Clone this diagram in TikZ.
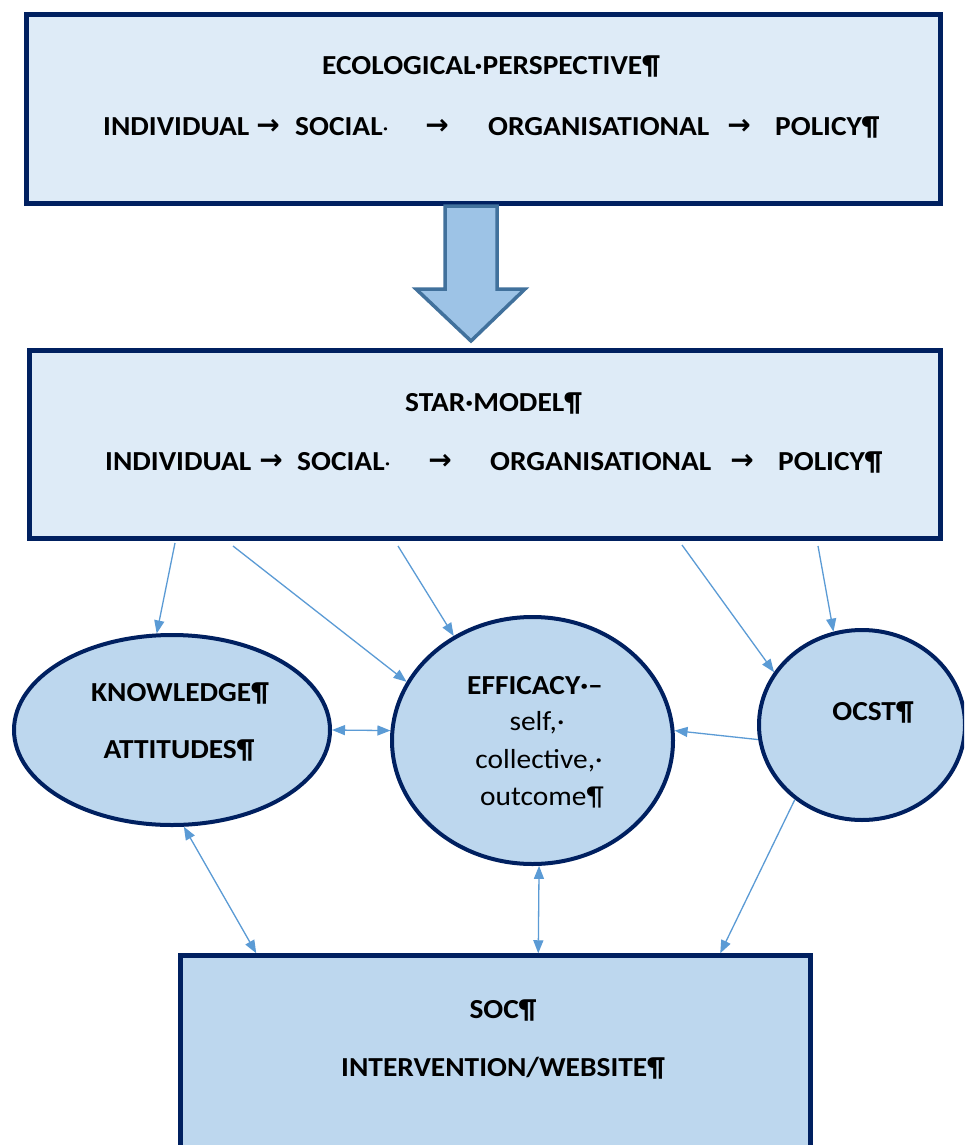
\documentclass[tikz,border=0pt]{standalone}
\usepackage{fontspec}
\setmainfont{Carlito}[FakeStretch=1.07]
\newfontfamily\arrowfont{DejaVu Sans}
\usetikzlibrary{arrows.meta,calc,shapes.geometric}
\definecolor{navy}{RGB}{0,32,96}
\definecolor{paleblue}{RGB}{222,235,247}
\definecolor{midblue}{RGB}{189,215,238}
\definecolor{linkblue}{RGB}{91,155,213}
\definecolor{arrowfill}{RGB}{157,195,230}
\definecolor{arrowedge}{RGB}{65,113,156}
\tikzset{
  bigbox/.style={draw=navy, line width=5pt, fill=paleblue, inner sep=0pt},
  socbox/.style={draw=navy, line width=4.5pt, fill=midblue, inner sep=0pt},
  bubble/.style={ellipse, draw=navy, line width=4pt, fill=midblue, inner sep=0pt},
  lbl/.style={font=\fontsize{27.5}{32}\selectfont\bfseries, inner sep=0pt, text=black},
  lblr/.style={font=\fontsize{27.5}{32}\selectfont, inner sep=0pt, text=black},
  tab/.style={font=\arrowfont\fontsize{28}{30}\selectfont\bfseries, inner sep=0pt},
  link/.style={draw=linkblue, line width=1.3pt, -{Triangle[length=13pt,width=10pt]}},
  dlink/.style={draw=linkblue, line width=1.3pt, {Triangle[length=13pt,width=10pt]}-{Triangle[length=13pt,width=10pt]}},
}
\newcommand{\cellmark}{{\fontsize{22}{22}\selectfont\mdseries·}}
\begin{document}
\begin{tikzpicture}[x=1pt, y=-1pt]
\useasboundingbox (0,0) rectangle (964,1145);
\clip (0,0) rectangle (964,1145);
\fill[white] (0,0) rectangle (964,1145);

% top box
\node[bigbox, minimum width=914pt, minimum height=189pt] (eco) at (483.5,109) {};
\node[lbl] (ecot) at (491,66) {ECOLOGICAL·PERSPECTIVE¶};
\node[lbl, anchor=west] (e1) at (103,127) {INDIVIDUAL};
\node[tab] (ea1) at (268,127) {→};
\node[lbl, anchor=west] (e2) at (295,127) {SOCIAL\cellmark};
\node[tab] (ea2) at (437,127) {→};
\node[lbl, anchor=west] (e3) at (488,127) {ORGANISATIONAL};
\node[tab] (ea3) at (739,127) {→};
\node[lbl, anchor=west] (e4) at (775,127) {POLICY¶};

% block arrow
\draw[line width=3.5pt, draw=arrowedge, fill=arrowfill, line join=miter]
  (445,206) -- (497,206) -- (497,289) -- (525,289) -- (471,341) -- (416,289) -- (445,289) -- cycle;

% star box
\node[bigbox, minimum width=911pt, minimum height=188pt] (star) at (485,444.5) {};
\node[lbl, anchor=west] (start) at (405,403) {STAR·MODEL¶};
\node[lbl, anchor=west] (s1) at (105,462) {INDIVIDUAL};
\node[tab] (sa1) at (271,462) {→};
\node[lbl, anchor=west] (s2) at (297,462) {SOCIAL\cellmark};
\node[tab] (sa2) at (440,462) {→};
\node[lbl, anchor=west] (s3) at (490,462) {ORGANISATIONAL};
\node[tab] (sa3) at (742,462) {→};
\node[lbl, anchor=west] (s4) at (778,462) {POLICY¶};

% ellipses
\node[bubble, minimum width=316pt, minimum height=190pt] (know) at (172,730) {};
\node[lbl] (knowt) at (180,693) {KNOWLEDGE¶};
\node[lbl] (attt) at (179,750) {ATTITUDES¶};

\node[bubble, minimum width=281pt, minimum height=247pt] (eff) at (532.5,740.5) {};
\node[lbl] (efft) at (535,686) {EFFICACY·–};
\node[lblr] (eff1) at (537,723) {self,·};
\node[lblr] (eff2) at (539,761) {collective,·};
\node[lblr] (eff3) at (542,798) {outcome¶};

\node[bubble, minimum width=206pt, minimum height=190pt] (ocst) at (862,725) {};
\node[lbl] (ocstt) at (873,712) {OCST¶};

% SOC box
\node[socbox, minimum width=630pt, minimum height=220pt] (soc) at (495.5,1065.5) {};
\node[lbl] (soct) at (503,1010) {SOC¶};
\node[lbl] (soc2) at (503,1068) {INTERVENTION/WEBSITE¶};

% connectors
\coordinate (p1) at (175,543);
\coordinate (p2) at (233,546);
\coordinate (p3) at (398,546);
\coordinate (p4) at (682,545);
\coordinate (p5) at (818,546);
\draw[link] (p1) -- (know.99);
\draw[link] (p2) -- (eff.155);
\draw[link] (p3) -- (eff.127);
\draw[link] (p4) -- (ocst.149);
\draw[link] (p5) -- (ocst.107);
\draw[dlink] (know.0) -- (eff.176);
\draw[link] (ocst.188) -- (eff.4);
\draw[dlink] (know.277) -- ([xshift=78pt]soc.north west);
\draw[dlink] (eff.273) -- ([xshift=360pt]soc.north west);
\draw[link] (ocst.228) -- ([xshift=542pt]soc.north west);
\end{tikzpicture}
\end{document}
